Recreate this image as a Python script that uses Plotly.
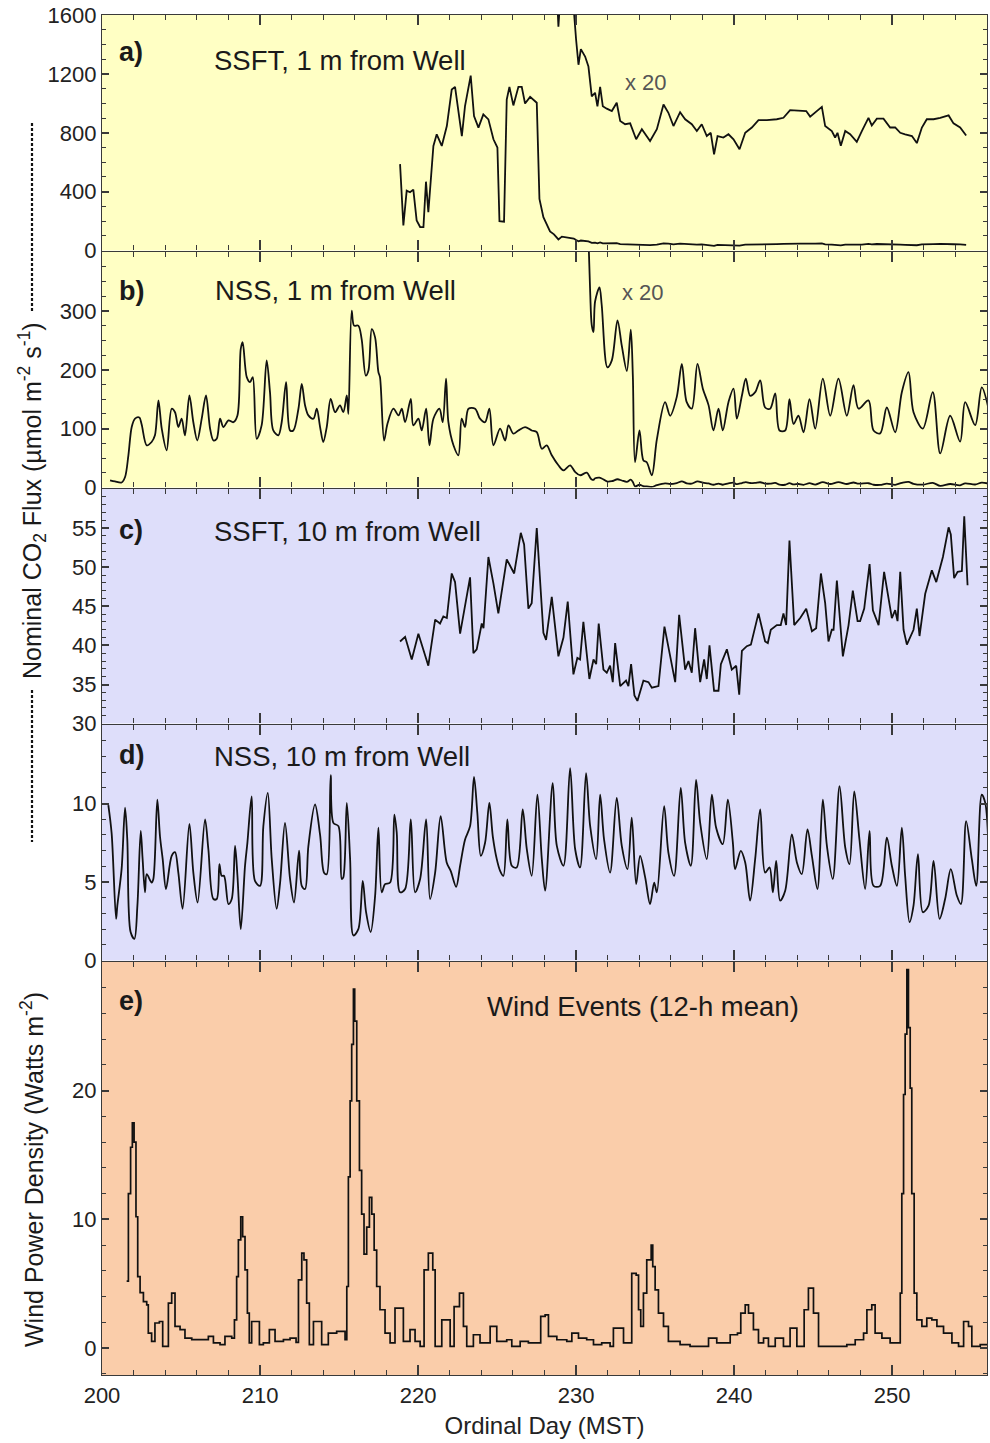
import plotly.graph_objects as go

# ---------------- data ----------------
# a) SSFT, 1 m from well (raw nominal CO2 flux); also drawn x20
ssft1_day = [
    218.86, 219.07, 219.28, 219.49, 219.70, 219.91, 220.13, 220.34, 220.50, 220.65,
    220.97, 221.18, 221.50, 221.82, 222.13, 222.34, 222.77, 222.97, 223.33, 223.54,
    223.82, 224.13, 224.45, 224.77, 225.02, 225.15, 225.44, 225.61, 225.78, 226.03,
    226.35, 226.56, 226.77, 227.09, 227.51, 227.68, 227.93, 228.35, 228.60, 228.88,
    229.10, 229.50, 229.85, 230.00, 230.15, 230.30, 230.57, 230.78, 230.99, 231.20,
    231.35, 231.52, 231.69, 231.94, 232.26, 232.57, 232.79, 233.10, 233.42, 233.80,
    234.16, 234.68, 235.11, 235.53, 235.84, 236.16, 236.58, 236.90, 237.32, 237.64,
    237.95, 238.27, 238.52, 238.73, 238.95, 239.32, 239.64, 239.96, 240.34, 240.70,
    241.12, 241.54, 242.07, 242.70, 243.12, 243.54, 244.18, 244.56, 244.81, 245.13,
    245.55, 245.76, 246.18, 246.39, 246.54, 246.75, 247.03, 247.34, 247.76, 248.08,
    248.50, 248.71, 249.03, 249.45, 249.87, 250.19, 250.51, 250.82, 251.25, 251.56,
    251.88, 252.19, 252.62, 253.04, 253.57, 253.88, 254.30, 254.68]
ssft1_flux = [
    587, 171, 407, 396, 414, 205, 160, 160, 468, 261,
    711, 790, 711, 846, 1094, 1112, 778, 981, 1188, 913,
    835, 925, 891, 756, 700, 200, 196, 1026, 1112, 986,
    1112, 1112, 999, 1044, 1004, 351, 227, 130, 110, 76,
    95, 88, 82, 71.6, 63.1, 68.4, 65.9, 62.5, 52.4, 53.6,
    49.0, 55.6, 49.0, 48.2, 47.4, 50.2, 44.0, 42.9, 43.2, 37.8,
    41.2, 37.2, 41.2, 49.6, 46.8, 42.3, 47.0, 44.6, 42.9, 40.6,
    42.9, 38.9, 40.0, 32.7, 38.9, 38.4, 39.5, 37.8, 34.4, 40.0,
    41.8, 44.3, 44.3, 44.6, 45.1, 47.7, 47.4, 47.4, 45.5, 46.8,
    48.8, 42.3, 40.6, 38.4, 40.0, 35.6, 40.6, 39.5, 36.9, 40.6,
    45.1, 42.5, 44.8, 44.8, 41.8, 41.8, 40.0, 39.5, 38.9, 36.5,
    41.8, 44.6, 44.6, 45.1, 45.9, 43.2, 41.8, 39.1]

# b) NSS, 1 m from well; also drawn x20
nss1_day = [
    200.51, 200.82, 201.24, 201.46, 201.67, 201.88, 202.09, 202.36, 202.51, 202.83,
    203.14, 203.35, 203.57, 203.78, 204.09, 204.41, 204.62, 204.83, 205.04, 205.25,
    205.53, 205.78, 206.03, 206.31, 206.58, 206.84, 207.05, 207.26, 207.47, 207.68,
    208.00, 208.31, 208.57, 208.78, 208.90, 209.16, 209.37, 209.54, 209.79, 210.10,
    210.42, 210.63, 210.84, 211.16, 211.37, 211.65, 211.90, 212.11, 212.43, 212.64,
    212.85, 213.06, 213.38, 213.59, 213.80, 214.00, 214.22, 214.47, 214.75, 215.06,
    215.27, 215.49, 215.59, 215.80, 215.95, 216.22, 216.43, 216.69, 216.86, 217.07,
    217.28, 217.49, 217.59, 217.85, 218.06, 218.44, 218.76, 218.97, 219.18, 219.54,
    219.70, 220.02, 220.23, 220.51, 220.72, 220.97, 221.35, 221.56, 221.77, 221.92,
    222.24, 222.55, 222.76, 222.97, 223.19, 223.61, 223.92, 224.24, 224.51, 224.77,
    225.19, 225.51, 225.72, 226.03, 226.35, 226.77, 227.19, 227.51, 227.83, 228.14,
    228.46, 228.88, 229.20, 229.62, 229.94, 230.25, 230.68, 230.89, 230.99, 231.10,
    231.20, 231.48, 231.62, 231.98, 232.26, 232.62, 232.89, 233.21, 233.46, 233.59,
    233.73, 234.01, 234.26, 234.47, 234.79, 235.11, 235.63, 235.95, 236.37, 236.69,
    237.00, 237.32, 237.68, 238.02, 238.38, 238.69, 239.01, 239.28, 239.64, 239.96,
    240.17, 240.49, 240.74, 241.01, 241.33, 241.65, 241.96, 242.28, 242.60, 242.87,
    243.23, 243.50, 243.76, 244.07, 244.39, 244.77, 245.13, 245.61, 246.08, 246.60,
    247.13, 247.55, 247.87, 248.50, 248.82, 249.24, 249.66, 250.19, 250.61, 251.03,
    251.35, 251.94, 252.57, 253.04, 253.67, 254.30, 254.62, 255.25, 255.67, 256.10]
nss1_flux = [
    12.4, 10.5, 8.6, 18, 54.8, 102.8, 117, 119, 107, 71.8,
    77.4, 88.7, 148, 100, 63.3, 133.9, 128, 102.8, 117, 88.7,
    156.5, 111, 80, 117, 156.5, 100, 80, 82.9, 117, 102.8,
    114, 111, 122.6, 235.6, 247, 187.6, 179, 187.6, 82.9, 105.6,
    215.8, 162, 97, 88.7, 111, 179, 97, 97, 133.9, 176,
    139.5, 122.6, 117, 133.9, 102.8, 77.4, 102.8, 150.8, 128, 139.5,
    128, 156.5, 125, 300.5, 275, 275, 252, 190, 199, 269,
    255, 196, 187.6, 80, 108, 133.9, 122.6, 133.9, 111, 150.8,
    105.6, 117, 97, 133.9, 71.8, 117, 133.9, 111, 185, 111,
    71.8, 54.8, 117, 102.8, 133.9, 133.9, 117, 111, 133.9, 71.8,
    100, 80, 105.6, 91.5, 97, 102.8, 97, 94, 66, 71.8,
    54.8, 37.9, 29.4, 37.9, 26.6, 21, 25.5, 16.6, 13.8, 13.2,
    15.8, 17, 15.5, 10.2, 10.8, 14.2, 12.05, 9.9, 13.4, 9.5,
    2.15, 4.85, 2.3, 2.15, 1.05, 4.1, 7.25, 6.1, 7.7, 10.5,
    7.25, 6.7, 10.5, 8.4, 7.0, 4.85, 6.7, 4.85, 7.25, 8.4,
    5.85, 7.8, 9.25, 7.8, 8.1, 9.1, 6.8, 6.7, 8.0, 4.85,
    4.85, 7.5, 5.4, 6.1, 4.7, 7.5, 5.0, 9.25, 6.1, 9.25,
    6.1, 8.7, 6.7, 7.4, 4.85, 4.6, 6.8, 4.7, 8.1, 9.8,
    6.4, 5.0, 8.1, 2.9, 6.1, 3.9, 7.25, 5.3, 8.5, 6.7]

SCALE = 20  # the "x 20" curves

# c) SSFT, 10 m from well
ssft10_day = [
    218.86, 219.18, 219.60, 220.02, 220.65, 221.08, 221.39, 221.60, 221.82, 222.13,
    222.34, 222.66, 223.29, 223.50, 223.71, 224.03, 224.14, 224.45, 224.77, 225.08,
    225.61, 226.08, 226.50, 226.71, 226.98, 227.19, 227.51, 227.93, 228.10, 228.46,
    228.88, 229.20, 229.47, 229.83, 230.08, 230.25, 230.46, 230.84, 231.10, 231.27,
    231.43, 231.73, 231.94, 232.15, 232.32, 232.47, 232.79, 233.16, 233.31, 233.48,
    233.69, 233.88, 234.26, 234.58, 234.79, 235.21, 235.59, 236.27, 236.52, 236.90,
    237.11, 237.32, 237.53, 237.85, 238.10, 238.27, 238.44, 238.73, 239.01, 239.16,
    239.54, 239.85, 240.13, 240.32, 240.49, 240.80, 241.06, 241.54, 241.96, 242.13,
    242.32, 242.70, 242.95, 243.12, 243.29, 243.50, 243.80, 244.18, 244.56, 244.92,
    245.19, 245.49, 245.76, 245.97, 246.18, 246.29, 246.50, 246.88, 247.24, 247.51,
    247.81, 247.97, 248.23, 248.57, 248.78, 249.14, 249.49, 249.98, 250.19, 250.34,
    250.51, 250.72, 250.93, 251.35, 251.56, 251.73, 252.09, 252.51, 252.79, 253.21,
    253.57, 253.71, 253.92, 254.14, 254.41, 254.56, 254.77]
ssft10_flux = [
    40.5, 41.1, 38.2, 41.5, 37.4, 43.3, 42.8, 43.7, 43.5, 49.2,
    48.1, 41.5, 48.7, 39.0, 39.5, 42.8, 42.2, 51.3, 47.9, 44.1,
    51.0, 49.2, 54.4, 52.9, 44.7, 45.4, 55.0, 41.6, 40.7, 46.2,
    38.6, 41.0, 45.6, 36.3, 38.4, 38.2, 43.0, 35.7, 38.2, 37.6,
    42.8, 36.9, 36.5, 37.4, 35.3, 40.3, 34.8, 35.5, 34.8, 37.6,
    33.6, 32.9, 35.5, 35.3, 34.6, 34.8, 42.4, 35.3, 43.9, 36.9,
    38.0, 36.5, 42.2, 35.3, 38.2, 35.7, 40.0, 34.2, 34.2, 37.6,
    39.5, 36.9, 37.4, 33.7, 39.3, 39.9, 40.1, 44.1, 40.5, 40.3,
    42.0, 42.6, 42.6, 44.1, 42.6, 53.4, 42.6, 43.5, 44.7, 41.8,
    42.2, 49.2, 45.4, 40.5, 42.0, 42.0, 48.3, 38.6, 42.6, 47.0,
    43.1, 43.1, 44.7, 50.4, 44.5, 42.6, 49.4, 43.5, 44.5, 43.1,
    49.4, 42.0, 40.1, 42.0, 44.7, 41.2, 46.6, 49.6, 48.1, 51.3,
    55.1, 54.2, 48.6, 49.4, 49.5, 56.5, 47.7]

# d) NSS, 10 m from well
nss10_day = [
    200.40, 200.61, 200.89, 200.97, 201.24, 201.46, 201.60, 201.81, 202.05, 202.24,
    202.45, 202.57, 202.72, 202.83, 203.14, 203.25, 203.50, 203.67, 203.84, 204.05,
    204.41, 204.62, 204.83, 205.10, 205.53, 205.78, 206.05, 206.52, 206.73, 207.05,
    207.26, 207.43, 207.57, 207.72, 208.00, 208.21, 208.42, 208.57, 208.78, 209.05,
    209.20, 209.47, 209.68, 210.00, 210.21, 210.49, 210.74, 211.05, 211.27, 211.58,
    211.90, 212.15, 212.47, 212.64, 212.85, 213.06, 213.48, 213.80, 214.05, 214.22,
    214.47, 214.64, 214.96, 215.17, 215.27, 215.49, 215.70, 215.91, 216.22, 216.50,
    216.71, 217.00, 217.28, 217.49, 217.70, 217.91, 218.23, 218.50, 218.65, 218.86,
    219.18, 219.54, 219.81, 220.13, 220.51, 220.76, 221.08, 221.43, 221.81, 222.07,
    222.41, 222.66, 222.97, 223.29, 223.54, 223.75, 223.97, 224.24, 224.51, 224.73,
    224.98, 225.19, 225.40, 225.65, 225.93, 226.24, 226.62, 226.88, 227.19, 227.55,
    227.83, 228.04, 228.52, 228.78, 229.20, 229.62, 229.94, 230.25, 230.63, 230.89,
    231.27, 231.52, 231.77, 232.15, 232.57, 232.89, 233.25, 233.52, 233.80, 234.05,
    234.37, 234.68, 234.94, 235.11, 235.57, 235.84, 236.20, 236.62, 236.90, 237.26,
    237.59, 237.85, 238.27, 238.59, 238.86, 239.28, 239.60, 239.92, 240.06, 240.42,
    240.70, 241.01, 241.33, 241.65, 241.96, 242.24, 242.45, 242.66, 242.91, 243.23,
    243.65, 243.97, 244.28, 244.64, 244.92, 245.27, 245.61, 245.87, 246.24, 246.67,
    247.03, 247.30, 247.60, 247.93, 248.29, 248.57, 248.82, 249.24, 249.66, 249.98,
    250.30, 250.61, 250.82, 251.10, 251.35, 251.63, 251.94, 252.30, 252.62, 253.00,
    253.35, 253.71, 254.09, 254.35, 254.68, 255.04, 255.32, 255.67, 255.89, 256.10]
nss10_flux = [
    9.9, 8.1, 2.66, 3.5, 5.82, 9.73, 7.7, 1.82, 1.39, 3.5,
    8.25, 6.46, 4.35, 5.5, 4.97, 5.2, 10.25, 7.9, 6.46, 4.56,
    6.67, 6.9, 5.6, 3.3, 8.7, 5.6, 3.7, 8.99, 7.09, 3.92,
    3.92, 6.14, 5.4, 5.4, 3.6, 3.92, 7.3, 5.4, 2.0, 6.03,
    7.5, 10.46, 5.08, 4.76, 8.56, 10.68, 6.46, 3.3, 4.97, 8.77,
    5.2, 3.7, 7.0, 4.76, 4.56, 7.3, 9.94, 8.0, 5.6, 5.5,
    11.8, 8.77, 8.56, 5.2, 5.3, 10.04, 6.46, 1.6, 2.0, 5.08,
    3.08, 1.82, 4.1, 8.46, 4.35, 4.87, 4.97, 9.3, 8.14, 4.35,
    4.56, 8.99, 4.35, 5.2, 8.99, 3.92, 5.6, 9.2, 6.25, 5.7,
    4.7, 6.04, 7.7, 8.56, 11.7, 9.4, 6.67, 7.5, 10.04, 7.9,
    6.46, 5.72, 5.4, 8.99, 6.04, 5.93, 9.62, 7.09, 5.4, 10.57,
    6.46, 4.45, 11.3, 7.3, 6.04, 12.26, 7.09, 5.93, 11.94, 8.56,
    6.46, 10.57, 7.7, 5.6, 10.36, 7.3, 5.82, 9.1, 4.87, 6.67,
    5.3, 3.6, 4.97, 4.35, 9.83, 6.88, 5.4, 11.0, 7.5, 6.04,
    11.5, 8.77, 6.46, 10.57, 8.46, 7.41, 10.25, 7.5, 5.82, 6.99,
    6.25, 3.82, 6.46, 9.62, 5.6, 5.93, 4.35, 6.35, 3.82, 4.45,
    8.04, 6.25, 5.5, 8.35, 6.67, 4.56, 10.25, 7.3, 5.2, 11.1,
    7.2, 6.14, 10.78, 7.7, 4.56, 8.25, 4.76, 4.76, 7.83, 6.04,
    4.76, 8.46, 5.4, 2.45, 3.5, 6.77, 3.08, 3.5, 6.35, 2.66,
    3.92, 5.82, 4.14, 3.6, 8.88, 6.46, 4.76, 10.57, 10.04, 6.99]

# e) Wind power density, 12-h mean
wind_day = [
    201.56, 201.67, 201.81, 201.92, 202.03, 202.15, 202.26, 202.41, 202.62, 202.83,
    202.93, 203.14, 203.35, 203.63, 203.84, 203.99, 204.20, 204.41, 204.62, 204.94,
    205.25, 205.68, 206.20, 206.73, 207.05, 207.47, 207.78, 208.21, 208.38, 208.52,
    208.63, 208.78, 208.90, 209.05, 209.20, 209.32, 209.47, 209.79, 209.96, 210.21,
    210.59, 210.95, 211.48, 211.90, 212.28, 212.43, 212.64, 212.78, 212.95, 213.12,
    213.38, 213.90, 214.32, 214.85, 215.38, 215.49, 215.59, 215.70, 215.80, 215.91,
    215.99, 216.12, 216.29, 216.43, 216.58, 216.75, 216.92, 217.07, 217.22, 217.38,
    217.59, 217.91, 218.23, 218.54, 218.86, 219.07, 219.49, 219.81, 220.13, 220.38,
    220.65, 220.93, 221.08, 221.50, 221.86, 222.03, 222.28, 222.62, 222.87, 223.08,
    223.50, 223.92, 224.24, 224.56, 224.98, 225.19, 225.61, 225.93, 226.46, 226.98,
    227.40, 227.76, 228.04, 228.25, 228.78, 229.41, 229.73, 230.15, 230.67, 231.10,
    231.62, 232.15, 232.36, 232.79, 233.00, 233.52, 233.80, 233.95, 234.09, 234.26,
    234.47, 234.64, 234.75, 234.85, 235.00, 235.21, 235.53, 235.84, 236.58, 237.21,
    237.85, 238.38, 238.90, 239.75, 240.21, 240.42, 240.70, 240.91, 241.22, 241.54,
    241.86, 242.17, 242.60, 243.12, 243.54, 243.97, 244.43, 244.70, 245.02, 245.34,
    246.29, 247.13, 247.66, 248.19, 248.40, 248.71, 248.92, 249.35, 249.87, 250.40,
    250.51, 250.61, 250.72, 250.82, 250.93, 251.03, 251.14, 251.24, 251.39, 251.56,
    251.88, 252.19, 252.51, 252.83, 253.25, 253.78, 254.20, 254.52, 254.83, 255.04,
    255.57, 256.10]
wind_power = [
    5.2, 12.0, 15.6, 17.5, 16.0, 10.2, 5.55, 4.3, 3.6, 3.35,
    1.16, 0.52, 1.94, 2.06, 0.13, 0.13, 3.48, 4.26, 1.68, 1.42,
    0.77, 0.65, 0.65, 0.9, 0.39, 0.26, 0.9, 0.77, 2.19, 5.55,
    8.4, 10.2, 8.65, 6.07, 2.71, 0.39, 2.06, 2.06, 0.26, 0.39,
    1.42, 0.52, 0.65, 0.77, 0.44, 5.3, 7.37, 6.85, 3.48, 0.26,
    2.06, 0.26, 1.16, 1.29, 0.65, 4.78, 13.3, 19.2, 23.6, 27.9,
    25.4, 19.2, 13.8, 10.4, 7.3, 9.4, 11.7, 10.4, 7.6, 4.78,
    2.97, 1.16, 0.39, 3.1, 3.1, 0.52, 1.42, 0.52, 0.13, 6.07,
    7.37, 6.07, 0.13, 2.19, 2.19, 0.13, 3.22, 4.26, 1.68, 0.13,
    1.03, 0.39, 0.39, 1.68, 0.52, 0.51, 0.64, 0.13, 0.51, 0.39,
    0.39, 2.45, 2.58, 0.9, 0.64, 0.51, 1.16, 0.77, 0.64, 0.26,
    0.39, 0.13, 1.55, 1.55, 0.39, 5.8, 5.67, 2.97, 1.68, 4.26,
    6.85, 6.85, 8.0, 6.33, 4.52, 2.71, 1.68, 0.51, 0.26, 0.13,
    0.13, 0.77, 0.39, 1.03, 1.16, 2.71, 3.35, 2.71, 1.42, 0.39,
    0.77, 0.13, 0.77, 0.13, 1.55, 0.13, 2.97, 4.65, 2.71, 0.13,
    0.13, 0.26, 0.64, 1.16, 2.97, 3.35, 1.16, 0.77, 0.39, 0.39,
    4.26, 11.99, 19.7, 24.4, 29.4, 24.9, 20.2, 12.0, 4.26, 2.19,
    1.68, 2.32, 2.19, 1.68, 1.16, 0.39, 0.13, 2.06, 1.68, 0.13,
    0.26, 0.39]

panel_letters = ["a)", "b)", "c)", "d)", "e)"]
panel_titles = ["SSFT, 1 m from Well", "NSS, 1 m from Well", "SSFT, 10 m from Well",
                "NSS, 10 m from Well", "Wind Events (12-h mean)"]
ytick_a = [0, 400, 800, 1200, 1600]
ytick_b = [0, 100, 200, 300]
ytick_c = [30, 35, 40, 45, 50, 55]
ytick_d = [0, 5, 10]
ytick_e = [0, 10, 20]
xtick_days = [200, 210, 220, 230, 240, 250]

# ---------------- layout geometry ----------------
W, H = 990, 1443
ML, MR, MT, MB = 102, 3, 15, 68
PH = H - MT - MB
PW = W - ML - MR
LW = 1.4  # frame line width


def py(p):  # pixel y -> paper
    return (H - MB - p) / PH


def px(p):  # pixel x -> paper
    return (p - ML) / PW


bounds = [(15, 252), (252, 489), (489, 725), (725, 962), (962, 1375)]
# lift the bottom of panels a-d by one line width so the shared frame lines overlap
domains = []
for i, (t, b) in enumerate(bounds):
    bb = b - LW if i < 4 else b
    domains.append([py(bb), py(t)])
bg = ["#FFFFC4", "#FFFFC4", "#DEDEFA", "#DEDEFA", "#FACDAA"]

FONT = "Arial, Liberation Sans, Helvetica, sans-serif"
INK = "#111111"
FRAME = "#3a3a3a"

fig = go.Figure()
line = dict(color=INK, width=1.8)
smooth = dict(color=INK, width=1.8, shape="spline", smoothing=0.9)

x20_a_day = [d for d in ssft1_day if d >= 228.3]
x20_a_val = [v * SCALE for d, v in zip(ssft1_day, ssft1_flux) if d >= 228.3]
x20_b_day = [d for d in nss1_day if d >= 230.3]
x20_b_val = [v * SCALE for d, v in zip(nss1_day, nss1_flux) if d >= 230.3]

fig.add_trace(go.Scatter(x=ssft1_day, y=ssft1_flux, mode="lines", line=line, xaxis="x", yaxis="y"))
fig.add_trace(go.Scatter(x=x20_a_day, y=x20_a_val, mode="lines", line=line, xaxis="x", yaxis="y"))
fig.add_trace(go.Scatter(x=nss1_day, y=nss1_flux, mode="lines", line=smooth, xaxis="x2", yaxis="y2"))
fig.add_trace(go.Scatter(x=x20_b_day, y=x20_b_val, mode="lines", line=smooth, xaxis="x2", yaxis="y2"))
fig.add_trace(go.Scatter(x=ssft10_day, y=ssft10_flux, mode="lines", line=line, xaxis="x3", yaxis="y3"))
fig.add_trace(go.Scatter(x=nss10_day, y=nss10_flux, mode="lines", line=smooth, xaxis="x4", yaxis="y4"))
fig.add_trace(go.Scatter(x=wind_day, y=wind_power, mode="lines", line=dict(color=INK, width=1.7, shape="hv"),
                         xaxis="x5", yaxis="y5"))

yspecs = [
    dict(range=[0, 1600], tickvals=ytick_a, minor_dtick=100),
    dict(range=[0, 400], tickvals=ytick_b, minor_dtick=25),
    dict(range=[30, 60], tickvals=ytick_c, minor_dtick=1),
    dict(range=[0, 15], tickvals=ytick_d, minor_dtick=1),
    dict(range=[-2.1, 30], tickvals=ytick_e, minor_dtick=2),
]

layout = dict(
    width=W, height=H,
    margin=dict(l=ML, r=MR, t=MT, b=MB, pad=0),
    paper_bgcolor="white", plot_bgcolor="white",
    showlegend=False,
    font=dict(family=FONT, color=INK, size=22),
)

for i in range(5):
    n = "" if i == 0 else str(i + 1)
    xa = dict(
        domain=[0, 1], anchor="y" + n, range=[200, 256],
        tickvals=xtick_days, ticks="inside", ticklen=10, tickwidth=1.5, tickcolor=FRAME,
        showline=True, linecolor=FRAME, linewidth=LW, mirror="ticks",
        showgrid=False, zeroline=False,
        minor=dict(ticks="inside", dtick=2, ticklen=5, tickwidth=1.3, tickcolor=FRAME, showgrid=False),
        showticklabels=(i == 4),
        tickfont=dict(size=22, family=FONT, color="#222"),
    )
    if i > 0:
        xa["matches"] = "x"
    if i == 4:
        xa["title"] = dict(text="Ordinal Day (MST)", font=dict(size=24, family=FONT, color="#222"), standoff=10)
    s = yspecs[i]
    ya = dict(
        domain=domains[i], anchor="x" + n, range=s["range"], tickvals=s["tickvals"],
        ticks="inside", ticklen=7, tickwidth=1.5, tickcolor=FRAME,
        showline=True, linecolor=FRAME, linewidth=LW, mirror="ticks",
        showgrid=False, zeroline=False,
        minor=dict(ticks="inside", dtick=s["minor_dtick"], tick0=s["range"][0] if i != 4 else 0,
                   ticklen=4, tickwidth=1.2, tickcolor=FRAME, showgrid=False),
        tickfont=dict(size=22, family=FONT, color="#222"),
    )
    layout["xaxis" + n] = xa
    layout["yaxis" + n] = ya

fig.update_layout(**layout)

# panel backgrounds
for i in range(5):
    n = "" if i == 0 else str(i + 1)
    fig.add_shape(type="rect", xref="x" + n + " domain", yref="y" + n + " domain",
                  x0=0, x1=1, y0=0, y1=1, fillcolor=bg[i], line=dict(width=0), layer="below")

# panel letters and titles
letter_y = [52, 291, 530, 755, 1001]
title_y = [61, 291, 531, 756, 1006]
title_x = [212, 213, 212, 212, 485]
for i in range(5):
    fig.add_annotation(x=px(117), y=py(letter_y[i]), xref="paper", yref="paper",
                       text="<b>" + panel_letters[i] + "</b>", showarrow=False,
                       xanchor="left", yanchor="middle", font=dict(size=27, family=FONT, color="#1a1a1a"))
    fig.add_annotation(x=px(title_x[i]), y=py(title_y[i]), xref="paper", yref="paper",
                       text=panel_titles[i], showarrow=False,
                       xanchor="left", yanchor="middle", font=dict(size=27.5, family=FONT, color="#1a1a1a"))

# "x 20" labels
for (lx, ly) in [(623, 82), (620, 292)]:
    fig.add_annotation(x=px(lx), y=py(ly), xref="paper", yref="paper", text="x 20",
                       showarrow=False, xanchor="left", yanchor="middle",
                       font=dict(size=22, family=FONT, color="#555555"))

# y-axis titles
fig.add_annotation(x=px(32), y=py(501), xref="paper", yref="paper",
                   text="Nominal CO<sub>2</sub> Flux (µmol m<sup>-2</sup> s<sup>-1</sup>)",
                   textangle=-90, showarrow=False, xanchor="center", yanchor="middle",
                   font=dict(size=25, family=FONT, color="#1a1a1a"))
fig.add_annotation(x=px(32), y=py(1170), xref="paper", yref="paper",
                   text="Wind Power Density (Watts m<sup>-2</sup>)",
                   textangle=-90, showarrow=False, xanchor="center", yanchor="middle",
                   font=dict(size=25, family=FONT, color="#1a1a1a"))

# dashed bars around the shared flux label
for (p0, p1) in [(123, 313), (690, 842)]:
    fig.add_shape(type="line", xref="paper", yref="paper", x0=px(32), x1=px(32),
                  y0=py(p0), y1=py(p1), line=dict(color="#111", width=2.2, dash="3px,2px"))

fig.write_html("out.html")
